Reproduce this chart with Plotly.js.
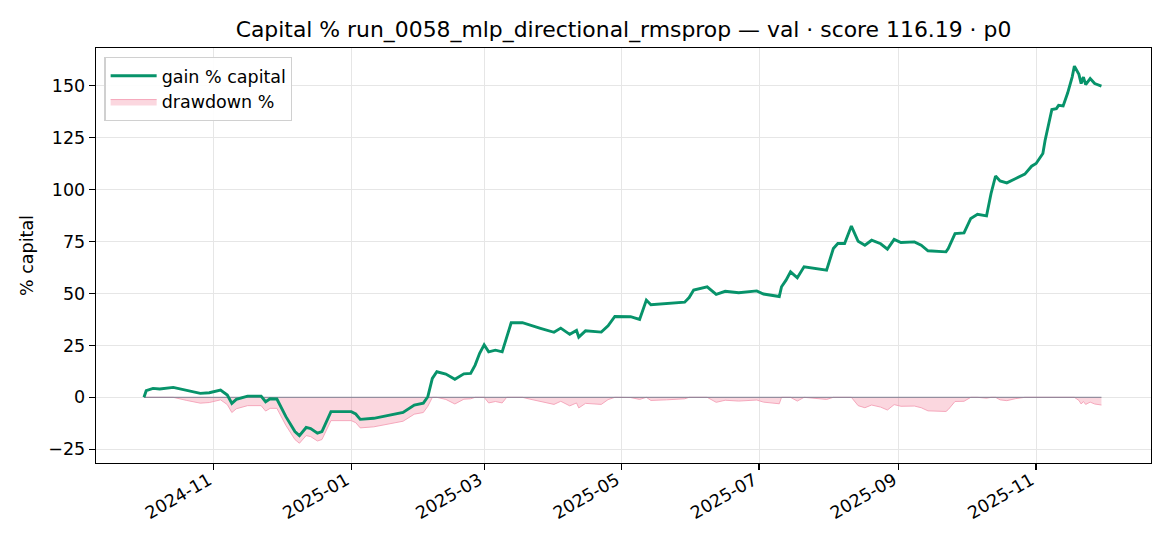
<!DOCTYPE html>
<html>
<head>
<meta charset="utf-8">
<script src="https://cdn.plot.ly/plotly-3.0.1.min.js"></script>
<style>
html,body{margin:0;padding:0;background:#fff;}
#chart{width:1170px;height:546px;}
</style>
</head>
<body>
<div id="chart"></div>
<script>
const dates = [
"2024-10-01","2024-10-02","2024-10-05","2024-10-08","2024-10-14","2024-10-20","2024-10-26","2024-10-30",
"2024-11-04","2024-11-07","2024-11-09","2024-11-11","2024-11-16","2024-11-22","2024-11-24","2024-11-26","2024-11-29",
"2024-12-03","2024-12-07","2024-12-09","2024-12-12","2024-12-14","2024-12-17","2024-12-19","2024-12-23","2024-12-27",
"2025-01-01","2025-01-03","2025-01-05","2025-01-11","2025-01-18","2025-01-24","2025-01-29",
"2025-02-02","2025-02-04","2025-02-06","2025-02-08","2025-02-12","2025-02-16","2025-02-20","2025-02-23","2025-02-25","2025-02-27",
"2025-03-01","2025-03-03","2025-03-06","2025-03-09","2025-03-11","2025-03-13","2025-03-18","2025-03-21","2025-03-26",
"2025-04-01","2025-04-04","2025-04-08","2025-04-11","2025-04-12","2025-04-15","2025-04-22","2025-04-25","2025-04-28",
"2025-05-05","2025-05-09","2025-05-12","2025-05-14","2025-05-21","2025-05-29","2025-05-31",
"2025-06-02","2025-06-08","2025-06-12","2025-06-16","2025-06-22","2025-06-30",
"2025-07-03","2025-07-10","2025-07-11","2025-07-13","2025-07-15","2025-07-18","2025-07-21","2025-07-31",
"2025-08-03","2025-08-05","2025-08-08","2025-08-11","2025-08-14","2025-08-17","2025-08-20","2025-08-24","2025-08-27","2025-08-30",
"2025-09-02","2025-09-08","2025-09-11","2025-09-14","2025-09-22","2025-09-23","2025-09-26","2025-09-30",
"2025-10-03","2025-10-06","2025-10-10","2025-10-12","2025-10-14","2025-10-16","2025-10-19","2025-10-23","2025-10-27","2025-10-30",
"2025-11-01","2025-11-04","2025-11-05","2025-11-08","2025-11-10","2025-11-11","2025-11-13","2025-11-15","2025-11-17","2025-11-18",
"2025-11-20","2025-11-21","2025-11-22","2025-11-23","2025-11-25","2025-11-27","2025-11-30"
];
const gainPct = [
0.0,3.2,4.3,4.0,4.8,3.2,1.9,2.2,
3.5,1.1,-2.9,-1.0,0.6,0.6,-2.1,-0.7,-0.8,
-9.3,-16.5,-18.4,-14.5,-15.0,-17.2,-16.5,-6.9,-6.9,
-6.9,-8.0,-10.6,-10.1,-8.5,-7.3,-3.7,
-2.8,0.3,9.1,12.3,11.2,8.7,11.3,11.5,15.5,21.2,
25.3,21.9,22.7,21.9,29.1,35.9,35.9,34.8,33.2,
31.3,33.3,30.3,32.2,29.0,32.0,31.4,34.4,38.9,
38.8,37.5,46.8,44.6,45.0,45.8,48.0,
51.6,53.2,49.5,51.0,50.3,51.2,
49.7,48.5,53.2,56.4,60.4,57.5,62.8,61.2,
71.6,74.0,74.0,82.4,75.1,73.2,75.6,73.9,71.3,76.0,
74.5,74.8,73.2,70.5,70.0,71.6,78.8,79.1,
86.1,88.1,87.3,98.1,106.5,104.1,103.2,105.3,107.4,111.2,
112.5,117.3,123.7,138.5,138.9,140.5,140.2,146.4,154.1,159.4,
155.4,151.0,154.1,150.5,153.4,151.0,149.8
];
const drawdownPct = [
0,0,0,-0.3,0,-1.5,-2.8,-2.5,
-1.2,-3.5,-7.3,-5.5,-4.0,-4.0,-6.6,-5.3,-5.3,
-13.5,-20.3,-22.1,-18.4,-18.9,-21.0,-20.3,-11.2,-11.2,
-11.2,-12.2,-14.7,-14.2,-12.7,-11.5,-8.1,
-7.3,-4.3,0,0,-1.0,-3.2,-0.9,-0.7,0,0,
0,-2.7,-2.0,-2.7,0,0,0,-0.8,-2.0,
-3.4,-1.9,-4.1,-2.7,-5.1,-2.9,-3.4,-1.1,0,
-0.1,-1.0,0,-1.5,-1.2,-0.7,0,
0,0,-2.4,-1.4,-1.8,-1.3,
-2.3,-3.1,0,0,0,-1.8,0,-1.0,
0,0,0,0,-4.0,-5.0,-3.7,-4.7,-6.1,-3.5,
-4.3,-4.2,-5.0,-6.5,-6.8,-5.9,-2.0,-1.9,
0,0,-0.4,0,0,-1.2,-1.6,-0.6,0,0,
0,0,0,0,0,0,-0.1,0,0,0,
-1.5,-3.2,-2.0,-3.4,-2.3,-3.2,-3.7
];
const yTicks = [-25,0,25,50,75,100,125,150];
const titleText = "Capital % run_0058_mlp_directional_rmsprop — val · score 116.19 · p0";

const FONT = "DejaVu Sans, Liberation Sans, sans-serif";
const FS = 17.5;

const traces = [
  {
    x: dates, y: drawdownPct, type: "scatter", mode: "lines",
    name: "drawdown %", fill: "tozeroy",
    fillcolor: "rgba(240,110,140,0.28)",
    line: {color: "rgba(244,160,182,0.9)", width: 1},
    hoverinfo: "skip"
  },
  {
    x: [dates[0], dates[dates.length-1]], y: [0,0], type: "scatter", mode: "lines",
    showlegend: false, line: {color: "rgba(120,120,140,0.75)", width: 1.2}, hoverinfo: "skip"
  },
  {
    x: dates, y: gainPct, type: "scatter", mode: "lines",
    name: "gain % capital",
    line: {color: "#07936a", width: 2.9}
  }
];

const layout = {
  width: 1170, height: 546,
  margin: {l: 95.5, r: 19, t: 47.7, b: 83, pad: 0},
  paper_bgcolor: "#fff", plot_bgcolor: "#fff",
  font: {family: FONT, size: FS, color: "#000"},
  title: {text: titleText, font: {family: FONT, size: 21.9, color: "#000"},
          x: 0.5, xref: "paper", y: 1 - 29/546, yref: "container", yanchor: "middle"},
  showlegend: true,
  legend: {x: 0.008, y: 0.979, xanchor: "left", yanchor: "top",
           bgcolor: "rgba(255,255,255,0.9)", bordercolor: "#d0d0d0", borderwidth: 1.2,
           font: {family: FONT, size: FS}, traceorder: "reversed", itemwidth: 46},
  xaxis: {
    type: "date",
    range: ["2024-09-09 17:00", "2025-12-22 00:00"],
    tick0: "2024-11-01", dtick: "M2", tickformat: "%Y-%m",
    tickangle: -30,
    ticklabelstandoff: -7, ticklabelshift: -5,
    showgrid: true, gridcolor: "#e6e6e6", gridwidth: 1,
    showline: true, linecolor: "#000", linewidth: 1.3, mirror: true,
    ticks: "outside", ticklen: 6, tickwidth: 1.3, tickcolor: "#000",
    zeroline: false,
    tickfont: {family: FONT, size: FS}
  },
  yaxis: {
    range: [-31.6, 168.1],
    tickvals: yTicks,
    title: {text: "% capital", font: {family: FONT, size: FS}, standoff: 10},
    showgrid: true, gridcolor: "#e6e6e6", gridwidth: 1,
    showline: true, linecolor: "#000", linewidth: 1.3, mirror: true,
    ticks: "outside", ticklen: 6, tickwidth: 1.3, tickcolor: "#000",
    zeroline: false,
    tickfont: {family: FONT, size: FS}
  }
};

Plotly.newPlot("chart", traces, layout, {displayModeBar: false, staticPlot: true});
</script>
</body>
</html>
